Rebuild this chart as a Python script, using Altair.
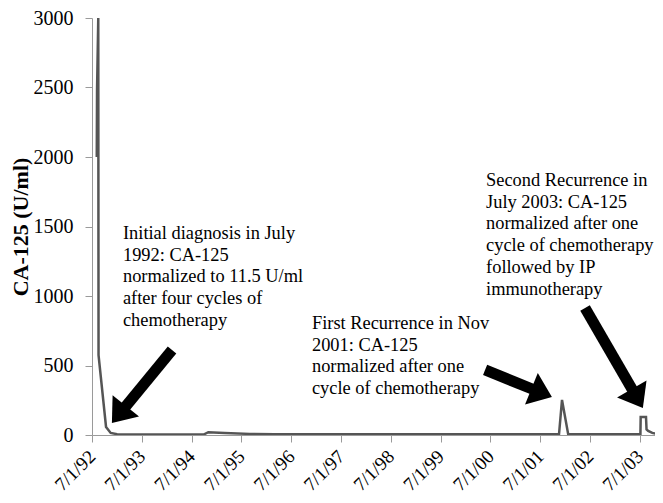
import altair as alt
import pandas as pd

# CA-125 series (date, U/ml)
dates = ["1992-08-05", "1992-08-07", "1992-08-16", "1992-08-18", "1992-10-12",
         "1992-11-15", "1993-01-01", "1993-07-01", "1994-04-01", "1994-10-01",
         "1994-11-01", "1995-03-01", "1995-09-01", "1996-03-01", "1997-07-01",
         "1999-07-01", "2001-11-16", "2001-12-08", "2002-01-22", "2003-07-06",
         "2003-07-08", "2003-08-16", "2003-08-20", "2003-09-01", "2003-10-01",
         "2003-11-01", "2003-12-15"]
values = [2000, 2480, 3000, 575, 58,
          15, 6, 4, 4, 5,
          20, 14, 8, 5, 5,
          5, 5, 252, 8, 5,
          130, 130, 40, 30, 15,
          8, 8]

years = list(range(1992, 2004))
tick_dates = [f"{y}-07-01" for y in years]
y_ticks = [0, 500, 1000, 1500, 2000, 2500, 3000]

# annotation texts and anchor positions (in data units)
notes = [
    "Initial diagnosis in July\n1992: CA-125\nnormalized to 11.5 U/ml\nafter four cycles of\nchemotherapy",
    "First Recurrence in Nov\n2001: CA-125\nnormalized after one\ncycle of chemotherapy",
    "Second Recurrence in\nJuly 2003: CA-125\nnormalized  after one\ncycle of chemotherapy\nfollowed by IP\nimmunotherapy",
]
note_dates = ["1993-02-13", "1996-11-30", "2000-05-30"]
note_values = [1518, 870, 1899]

# arrows: tail, neck (shaft end) and tip, in data units
arrow_tail_dates = ["1994-02-08", "2000-05-23", "2002-05-26"]
arrow_tail_values = [611, 468, 914]
arrow_neck_dates = ["1993-02-16", "2001-05-26", "2003-05-20"]
arrow_neck_values = [186, 322, 306]
arrow_tip_dates = ["1992-11-24", "2001-09-25", "2003-07-24"]
arrow_tip_values = [86, 273, 194]
arrow_angles = [219, 112, 150]

df = pd.DataFrame({"date": pd.to_datetime(dates), "value": values})
df_notes = pd.DataFrame({"date": pd.to_datetime(note_dates), "value": note_values, "text": notes})
df_arrows = pd.DataFrame({
    "d1": pd.to_datetime(arrow_tail_dates), "v1": arrow_tail_values,
    "d2": pd.to_datetime(arrow_neck_dates), "v2": arrow_neck_values,
    "dt": pd.to_datetime(arrow_tip_dates), "vt": arrow_tip_values,
    "angle": arrow_angles,
})

FONT = "Liberation Serif"
xscale = alt.Scale(domain=[pd.Timestamp("1992-07-01").isoformat(), pd.Timestamp("2003-10-21").isoformat()])
yscale = alt.Scale(domain=[0, 3000])

x_enc = alt.X("date:T", scale=xscale, axis=alt.Axis(
    values=[pd.Timestamp(d).isoformat() for d in tick_dates],
    format="%-m/%-d/%y", labelAngle=315, labelAlign="right", labelBaseline="middle",
    labelFont=FONT, labelFontSize=19, labelColor="black", labelPadding=11,
    tickSize=7, tickColor="#9a9a9a", domainColor="#9a9a9a", grid=False, title=None,
    labelOverlap=False))
y_enc = alt.Y("value:Q", scale=yscale, axis=alt.Axis(
    values=y_ticks, format="d", labelFont=FONT, labelFontSize=20, labelColor="black",
    labelPadding=12, tickSize=7, tickColor="#9a9a9a", domainColor="#9a9a9a",
    grid=False, title="CA-125 (U/ml)", titleFont=FONT, titleFontSize=22,
    titleFontWeight="bold", titleColor="black", titlePadding=1))

line = alt.Chart(df).mark_line(color="#555555", strokeWidth=2.5, clip=True).encode(x=x_enc, y=y_enc)

shafts = alt.Chart(df_arrows).mark_rule(color="black", strokeWidth=11, strokeCap="butt").encode(
    x="d1:T", y="v1:Q", x2="d2:T", y2="v2:Q")

heads = alt.Chart(df_arrows).mark_point(
    shape="M0,0L1,1.3L-1,1.3Z", filled=True, color="black", opacity=1, size=1156, strokeWidth=0
).encode(x="dt:T", y="vt:Q", angle=alt.Angle("angle:Q", scale=None))

texts = alt.Chart(df_notes).mark_text(
    align="left", baseline="top", font=FONT, fontSize=18.4, lineHeight=21.7,
    color="black", lineBreak="\n"
).encode(x="date:T", y="value:Q", text="text:N")

chart = alt.layer(line, shafts, heads, texts).properties(
    width=563, height=417,
    autosize=alt.AutoSizeParams(type="none"),
    padding={"left": 84, "top": 10, "right": 0, "bottom": 59},
).configure_view(stroke=None)

chart.save("out.html", embed_options={"renderer": "svg", "actions": False})
